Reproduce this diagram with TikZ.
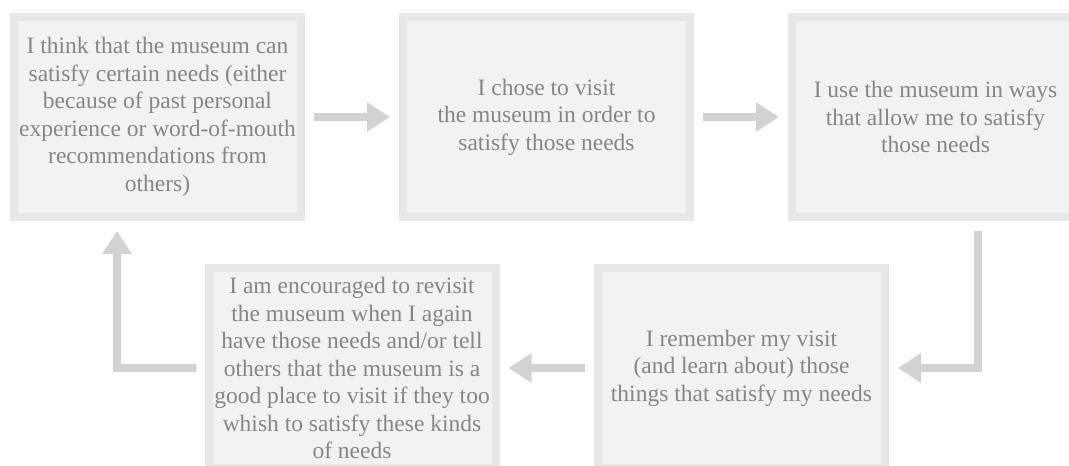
\documentclass[tikz,border=0pt]{standalone}
\usepackage{fontspec}
\setmainfont{Liberation Serif}
\usepackage{tikz}
\usetikzlibrary{arrows.meta}

\definecolor{boxline}{HTML}{E6E7E9}
\definecolor{boxfill}{HTML}{F1F2F4}
\definecolor{flowgray}{HTML}{D1D2D4}
\definecolor{textgray}{HTML}{868686}

\begin{document}
\begin{tikzpicture}[x=1pt, y=-1pt]
		\tikzstyle{stage}=[rectangle, draw=boxline, fill=boxfill, line width=8pt, minimum width=287pt, minimum height=200pt, align=center, text=textgray, font=\fontsize{23.5pt}{27.5pt}\selectfont]
		\tikzstyle{flow}=[draw=flowgray, line width=8pt, -{Triangle[length=23pt, width=28pt]}, shorten <=9pt, shorten >=9pt]
		
		\clip (0,0) rectangle (1069,466);
		\useasboundingbox (0,0) rectangle (1069,466);
		
		% Top row
		\node at (157.5, 117) [stage] (think) {I think that the museum can\\satisfy certain needs (either\\because of past personal\\experience or word-of-mouth\\recommendations from\\others)};
		\node at (546.5, 117) [stage] (chose) {I chose to visit\\the museum in order to\\satisfy those needs};
		\node at (935.5, 117) [stage] (use) {I use the museum in ways\\that allow me to satisfy\\those needs};
		
		% Bottom row
		\node at (741.5, 368) [stage] (remember) {I remember my visit\\(and learn about) those\\things that satisfy my needs};
		\node at (352, 368) [stage] (revisit) {I am encouraged to revisit\\the museum when I again\\have those needs and/or tell\\others that the museum is a\\good place to visit if they too\\whish to satisfy these kinds\\of needs};
		
		% Arrows
		\draw [flow] (think) -- (chose);
		\draw [flow] (chose) -- (use);
		\draw [flow, shorten <=10pt] ([xshift=42.5pt]use.south) |- (remember.east);
		\draw [flow] (remember) -- (revisit);
		\draw [flow, shorten >=10pt] (revisit.west) -| ([xshift=-40.5pt]think.south);
\end{tikzpicture}
\end{document}
